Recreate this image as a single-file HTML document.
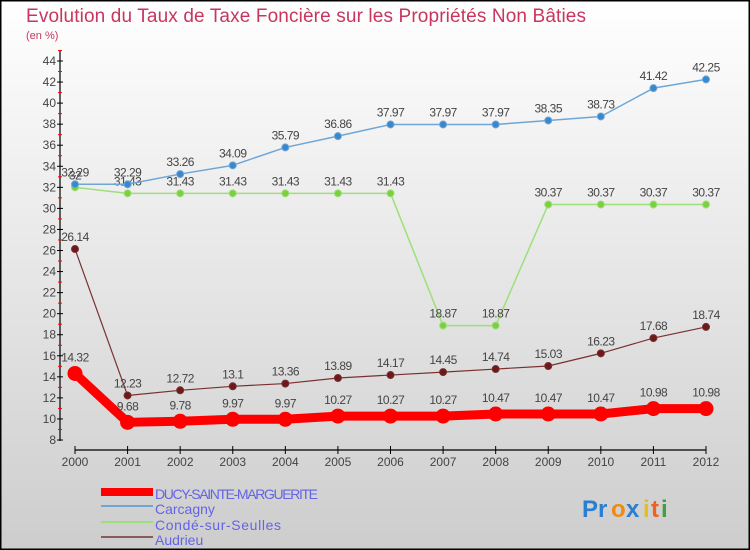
<!DOCTYPE html>
<html><head><meta charset="utf-8"><style>
body{margin:0;width:750px;height:550px;overflow:hidden}
svg{display:block;font-family:"Liberation Sans",sans-serif}
</style></head><body>
<svg id="c" width="750" height="550" xmlns="http://www.w3.org/2000/svg">
<defs><linearGradient id="bg" x1="0" y1="0" x2="0" y2="1"><stop offset="0" stop-color="#ffffff"/><stop offset="1" stop-color="#cdcdcd"/></linearGradient></defs>
<rect x="0.5" y="0.5" width="749" height="549" fill="url(#bg)" stroke="#000" stroke-width="2"/>
<text x="26" y="22" font-size="19" fill="#c8365f" textLength="560">Evolution du Taux de Taxe Foncière sur les Propriétés Non Bâties</text>
<text x="26" y="39" font-size="11" fill="#c8365f">(en %)</text>
<g id="axes"></g><g id="series"></g>
<g>
<rect x="101" y="488" width="52" height="8" fill="#f00"/>
<line x1="101" y1="506" x2="153" y2="506" stroke="#6fa6d6" stroke-width="2"/>
<line x1="101" y1="522" x2="153" y2="522" stroke="#9de07a" stroke-width="2"/>
<line x1="101" y1="537" x2="153" y2="537" stroke="#8b5a5a" stroke-width="2"/>
<g font-size="14" fill="#6464e6">
<text x="155" y="499" textLength="163">DUCY-SAINTE-MARGUERITE</text>
<text x="155" y="514">Carcagny</text>
<text x="155" y="530" textLength="126">Condé-sur-Seulles</text>
<text x="155" y="545">Audrieu</text>
</g></g>
<g font-size="24" font-weight="bold">
<text x="582" y="517" fill="#2a7fd0">Pr</text><text x="611" y="517" fill="#f08a10">o</text><text x="626" y="517" fill="#2a7fd0">x</text><text x="643" y="517" fill="#e0c020">i</text><text x="651" y="517" fill="#f06020">t</text><text x="661" y="517" fill="#40a040">i</text>
</g>
</svg>
<script>
const years=[2000,2001,2002,2003,2004,2005,2006,2007,2008,2009,2010,2011,2012];
const ducy=[14.32,9.68,9.78,9.97,9.97,10.27,10.27,10.27,10.47,10.47,10.47,10.98,10.98];
const carcagny=[32.29,32.29,33.26,34.09,35.79,36.86,37.97,37.97,37.97,38.35,38.73,41.42,42.25];
const conde=[32,31.43,31.43,31.43,31.43,31.43,31.43,18.87,18.87,30.37,30.37,30.37,30.37];
const audrieu=[26.14,12.23,12.72,13.1,13.36,13.89,14.17,14.45,14.74,15.03,16.23,17.68,18.74];
const yTicks=[8,10,12,14,16,18,20,22,24,26,28,30,32,34,36,38,40,42,44];
const NS="http://www.w3.org/2000/svg";
const xS=i=>75+i*(706-75)/12;
const yS=v=>440-(v-8)*(440-61)/36;
function mk(t,a,p){const e=document.createElementNS(NS,t);for(const k in a)e.setAttribute(k,a[k]);p.appendChild(e);return e;}
const ax=document.getElementById('axes');
let yl=mk('line',{x1:60,y1:50,x2:60,y2:441,stroke:'#000','stroke-width':1.2},ax);


yTicks.forEach(v=>{
 mk('line',{x1:57,y1:yS(v),x2:63,y2:yS(v),stroke:'#000'},ax);
 mk('line',{x1:58,y1:yS(v+1),x2:62,y2:yS(v+1),stroke:'#f00'},ax);
 const t=mk('text',{x:56,y:yS(v)+4,'font-size':12,'text-anchor':'end',fill:'#444'},ax);t.textContent=v;
 
 
});
let xl=mk('line',{x1:75,y1:450,x2:706,y2:450,stroke:'#000','stroke-width':1.2},ax);


years.forEach((y,i)=>{
 mk('line',{x1:xS(i),y1:446,x2:xS(i),y2:454,stroke:'#000'},ax);
 const t=mk('text',{x:xS(i),y:466,'font-size':12,'text-anchor':'middle',fill:'#444'},ax);t.textContent=y;
 
 
});
const sg=document.getElementById('series');
function series(arr,name,col,dot,w,r,lblOff){
 const g=mk('g',{},sg);
 
 
 mk('polyline',{points:arr.map((v,i)=>xS(i)+','+yS(v)).join(' '),fill:'none',stroke:col,'stroke-width':w,'stroke-linejoin':'round'},g);
 arr.forEach((v,i)=>{
  const c=mk('circle',{cx:xS(i),cy:yS(v),r:r,fill:dot,stroke:col,'stroke-width':1},g);
  
  
  const t=mk('text',{x:xS(i),y:yS(v)+lblOff,'font-size':12,'text-anchor':'middle',fill:'#444','letter-spacing':'-0.5'},g);t.textContent=v;
  
  
 });
}
series(audrieu,'audrieu','#7a3030','#6a1a1a',1.2,3.5,-8);
series(conde,'conde','#9de07a','#7cd040',1.5,3.5,-8);
series(carcagny,'carcagny','#6fa6d6','#3a88cc',1.5,3.5,-8);
series(ducy,'ducy','#f00','#f00',9,7,-12);
</script>
</body></html>
